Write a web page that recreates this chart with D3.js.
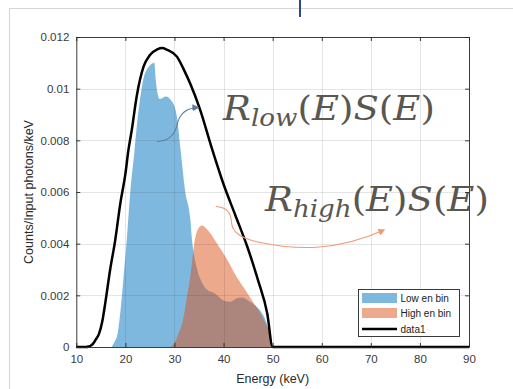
<!DOCTYPE html>
<html>
<head>
<meta charset="utf-8">
<script src="https://cdn.jsdelivr.net/npm/d3@7/dist/d3.min.js"></script>
<style>
  html, body { margin: 0; padding: 0; background: #fff; }
  svg { display: block; }
</style>
</head>
<body>
<svg id="chart" width="513" height="389"></svg>
<script>
// Incident spectrum S(E) ("data1")
const spectrumE = [10, 12, 12.5, 13, 13.5, 14, 14.6, 15.3, 15.9, 16.9, 17.9, 19, 20, 20.6, 21.3, 22.3, 23.7, 25, 26.5, 27.5, 28.5, 30.5, 32, 33.2, 35.2, 37.6, 40, 42.4, 44.8, 47, 48.9, 50, 60, 70, 80, 90];
const spectrumV = [0, 0, 0.00002, 0.00006, 0.00015, 0.0003, 0.0005, 0.001, 0.0017, 0.003, 0.0041, 0.0056, 0.0067, 0.0076, 0.0084, 0.0097, 0.01085, 0.0113, 0.01152, 0.01157, 0.0115, 0.01124, 0.0107, 0.0102, 0.0092, 0.0077, 0.0063, 0.0051, 0.0039, 0.0026, 0.0013, 0, 0, 0, 0, 0];

// Low energy bin response
const lowE = [17.2, 17.8, 18.4, 19.1, 19.8, 20.3, 21, 21.8, 22.3, 23, 23.7, 25, 25.9, 26.2, 27, 28.2, 29.5, 30.5, 31.2, 32.2, 33.2, 33.6, 34.5, 35.6, 36.8, 38, 40, 41.4, 42.8, 43.8, 45.4, 46.5, 47.5, 48.8, 49.5, 50];
const lowV = [0, 0.0002, 0.0005, 0.0016, 0.0031, 0.0042, 0.006, 0.0075, 0.0085, 0.0096, 0.0104, 0.0109, 0.011, 0.0103, 0.0096, 0.0097, 0.0095, 0.0089, 0.0077, 0.006, 0.005, 0.0041, 0.0031, 0.0025, 0.0022, 0.0021, 0.0018, 0.00175, 0.0019, 0.00192, 0.00175, 0.0016, 0.0014, 0.0009, 0.0004, 0];

// High energy bin response
const highE = [29.3, 30.1, 31, 31.8, 32.5, 33.2, 34.2, 34.9, 35.6, 36.4, 37.3, 39, 40.7, 42.4, 44.1, 45.8, 47.5, 48.6, 49.5, 50];
const highV = [0, 0.0002, 0.0006, 0.0011, 0.0019, 0.0027, 0.0042, 0.0046, 0.0047, 0.0046, 0.0044, 0.0039, 0.0034, 0.0028, 0.0023, 0.0018, 0.0013, 0.0009, 0.0005, 0];

const xTicks = [10, 20, 30, 40, 50, 60, 70, 80, 90];
const yTicks = [0, 0.002, 0.004, 0.006, 0.008, 0.01, 0.012];
const yTickLabels = ["0", "0.002", "0.004", "0.006", "0.008", "0.01", "0.012"];
const legendLabels = ["Low en bin", "High en bin", "data1"];

(function draw() {
  const svg = d3.select("#chart");
  const pLeft = 76.3, pRight = 469, pTop = 37, pBottom = 347;

  const x = d3.scaleLinear().domain([10, 90]).range([pLeft, pRight]);
  const y = d3.scaleLinear().domain([0, 0.012]).range([pBottom, pTop]);

  // slide frame
  svg.append("line").attr("x1", 9).attr("x2", 513).attr("y1", 8.5).attr("y2", 8.5)
    .attr("stroke", "#d4d4d4").attr("stroke-width", 1);
  svg.append("line").attr("x1", 9.5).attr("x2", 9.5).attr("y1", 8).attr("y2", 389)
    .attr("stroke", "#d4d4d4").attr("stroke-width", 1);
  svg.append("rect").attr("x", 299).attr("y", 0).attr("width", 2).attr("height", 17)
    .attr("fill", "#2d4b7a");

  const zip = (es, vs) => es.map((e, i) => [e, vs[i]]);

  const area = d3.area()
    .x(d => x(d[0])).y0(y(0)).y1(d => y(d[1]))
    .curve(d3.curveMonotoneX);
  const line = d3.line()
    .x(d => x(d[0])).y(d => y(d[1]))
    .curve(d3.curveMonotoneX);

  const blue = "#0072BD", orange = "#D95319";

  svg.append("path").datum(zip(lowE, lowV)).attr("d", area)
    .attr("fill", blue).attr("fill-opacity", 0.5);
  svg.append("path").datum(zip(highE, highV)).attr("d", area)
    .attr("fill", orange).attr("fill-opacity", 0.5);

  // grid
  const grid = svg.append("g").attr("stroke", "#262626").attr("stroke-opacity", 0.12).attr("stroke-width", 1);
  xTicks.slice(1, -1).forEach(t => {
    grid.append("line").attr("x1", Math.round(x(t)) + 0.5).attr("x2", Math.round(x(t)) + 0.5)
      .attr("y1", pTop).attr("y2", pBottom);
  });
  yTicks.slice(1, -1).forEach(t => {
    grid.append("line").attr("y1", Math.round(y(t)) + 0.5).attr("y2", Math.round(y(t)) + 0.5)
      .attr("x1", pLeft).attr("x2", pRight);
  });

  svg.append("path").datum(zip(spectrumE, spectrumV)).attr("d", line)
    .attr("fill", "none").attr("stroke", "#000").attr("stroke-width", 2.5)
    .attr("stroke-linejoin", "round");

  // axes (box with inward ticks)
  const axisColor = "#262626";
  const axB = d3.axisBottom(x).tickValues(xTicks).tickSizeInner(-4).tickSizeOuter(0).tickPadding(8);
  const axT = d3.axisTop(x).tickValues(xTicks).tickSizeInner(-4).tickSizeOuter(0).tickFormat("");
  const axL = d3.axisLeft(y).tickValues(yTicks).tickSizeInner(-4).tickSizeOuter(0).tickPadding(7)
    .tickFormat((d, i) => yTickLabels[i]);
  const axR = d3.axisRight(y).tickValues(yTicks).tickSizeInner(-4).tickSizeOuter(0).tickFormat("");

  function styleAxis(g) {
    g.selectAll("path").attr("stroke", axisColor).attr("stroke-width", 0.9);
    g.selectAll("line").attr("stroke", axisColor).attr("stroke-width", 0.9);
    g.selectAll("text").attr("fill", "#3a3a3a").attr("font-size", 11.5)
      .attr("font-family", "'Liberation Sans', Arial, sans-serif");
  }
  svg.append("g").attr("transform", `translate(0,${pBottom})`).call(axB).call(styleAxis);
  svg.append("g").attr("transform", `translate(0,${pTop})`).call(axT).call(styleAxis);
  svg.append("g").attr("transform", `translate(${pLeft},0)`).call(axL).call(styleAxis);
  svg.append("g").attr("transform", `translate(${pRight},0)`).call(axR).call(styleAxis);

  // axis titles
  svg.append("text").attr("x", (pLeft + pRight) / 2).attr("y", 383)
    .attr("text-anchor", "middle").attr("font-size", 12.5).attr("fill", "#2a2a2a")
    .attr("font-family", "'Liberation Sans', Arial, sans-serif").text("Energy (keV)");
  svg.append("text").attr("transform", `translate(33,${(pTop + pBottom) / 2}) rotate(-90)`)
    .attr("text-anchor", "middle").attr("font-size", 12.5).attr("fill", "#2a2a2a")
    .attr("font-family", "'Liberation Sans', Arial, sans-serif").text("Counts/Input photons/keV");

  // legend
  const lg = svg.append("g");
  lg.append("rect").attr("x", 358.5).attr("y", 289.5).attr("width", 101).attr("height", 47)
    .attr("fill", "#fff").attr("stroke", "#262626").attr("stroke-width", 0.9);
  const rowY = [298, 313, 329];
  lg.append("rect").attr("x", 362).attr("y", rowY[0] - 5).attr("width", 35).attr("height", 10)
    .attr("fill", blue).attr("fill-opacity", 0.5);
  lg.append("rect").attr("x", 362).attr("y", rowY[1] - 5).attr("width", 35).attr("height", 10)
    .attr("fill", orange).attr("fill-opacity", 0.5);
  lg.append("line").attr("x1", 362).attr("x2", 397).attr("y1", rowY[2]).attr("y2", rowY[2])
    .attr("stroke", "#000").attr("stroke-width", 2.5);
  legendLabels.forEach((t, i) => {
    lg.append("text").attr("x", 400.5).attr("y", rowY[i]).attr("dy", "0.35em")
      .attr("font-size", 10).attr("fill", "#222")
      .attr("font-family", "'Liberation Sans', Arial, sans-serif").text(t);
  });

  // formula annotations
  function formula(x0, baseline, sub, width) {
    const g = svg.append("g");
    const t = g.append("text").attr("x", 0).attr("y", 0)
      .attr("font-family", "'DejaVu Serif', 'Liberation Serif', serif")
      .attr("font-size", 34).attr("fill", "#5a5650");
    t.append("tspan").attr("font-style", "italic").text("R");
    t.append("tspan").attr("font-style", "italic").attr("font-size", 24).attr("dy", 6).text(sub);
    t.append("tspan").attr("dy", -6).text("(");
    t.append("tspan").attr("font-style", "italic").text("E");
    t.append("tspan").text(")");
    t.append("tspan").attr("font-style", "italic").text("S");
    t.append("tspan").text("(");
    t.append("tspan").attr("font-style", "italic").text("E");
    t.append("tspan").text(")");
    const w = t.node().getBBox().width;
    g.attr("transform", `translate(${x0},${baseline}) scale(${width / w},1)`);
  }
  formula(223, 120, "low", 213);
  formula(265, 210.5, "high", 225);

  // arrows
  const defs = svg.append("defs");
  function marker(id, color) {
    defs.append("marker").attr("id", id).attr("viewBox", "0 0 10 10")
      .attr("refX", 8).attr("refY", 5).attr("markerWidth", 7).attr("markerHeight", 7)
      .attr("markerUnits", "userSpaceOnUse").attr("orient", "auto")
      .append("path").attr("d", "M0,0 L10,5 L0,10 Z").attr("fill", color);
  }
  marker("arrBlue", "#5b7b9b");
  marker("arrOrange", "#ef9a78");

  const arrowBlue = d3.path();
  arrowBlue.moveTo(157, 141.5);
  arrowBlue.bezierCurveTo(170, 141, 175, 134, 177, 125);
  arrowBlue.bezierCurveTo(179, 115, 186, 108, 198, 107.5);
  svg.append("path").attr("d", arrowBlue.toString()).attr("fill", "none")
    .attr("stroke", "#5b7b9b").attr("stroke-width", 1.1).attr("marker-end", "url(#arrBlue)");

  const arrowOrange = d3.path();
  arrowOrange.moveTo(216, 206.5);
  arrowOrange.bezierCurveTo(226, 207, 231, 212, 231.5, 222);
  arrowOrange.bezierCurveTo(232, 232, 240, 238, 258, 242);
  arrowOrange.bezierCurveTo(295, 250, 335, 252, 384, 230);
  svg.append("path").attr("d", arrowOrange.toString()).attr("fill", "none")
    .attr("stroke", "#ef9a78").attr("stroke-width", 1.1).attr("marker-end", "url(#arrOrange)");
})();
</script>
</body>
</html>
